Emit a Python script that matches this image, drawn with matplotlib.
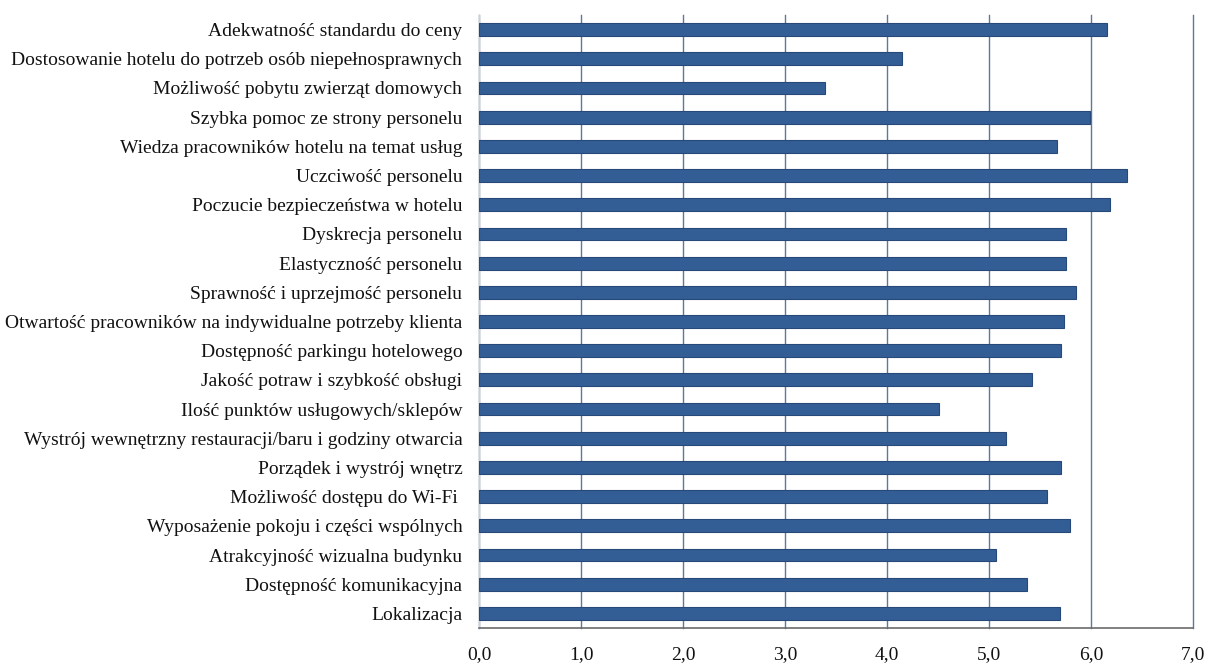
import matplotlib
matplotlib.use("Agg")
import matplotlib.pyplot as plt

categories = [
    "Adekwatność standardu do ceny",
    "Dostosowanie hotelu do potrzeb osób niepełnosprawnych",
    "Możliwość pobytu zwierząt domowych",
    "Szybka pomoc ze strony personelu",
    "Wiedza pracowników hotelu na temat usług",
    "Uczciwość personelu",
    "Poczucie bezpieczeństwa w hotelu",
    "Dyskrecja personelu",
    "Elastyczność personelu",
    "Sprawność i uprzejmość personelu",
    "Otwartość pracowników na indywidualne potrzeby klienta",
    "Dostępność parkingu hotelowego",
    "Jakość potraw i szybkość obsługi",
    "Ilość punktów usługowych/sklepów",
    "Wystrój wewnętrzny restauracji/baru i godziny otwarcia",
    "Porządek i wystrój wnętrz",
    "Możliwość dostępu do Wi-Fi ",
    "Wyposażenie pokoju i części wspólnych",
    "Atrakcyjność wizualna budynku",
    "Dostępność komunikacyjna",
    "Lokalizacja",
]
values = [6.16, 4.15, 3.39, 5.99, 5.67, 6.35, 6.19, 5.75, 5.75, 5.85, 5.74,
          5.71, 5.42, 4.51, 5.17, 5.71, 5.57, 5.79, 5.07, 5.37, 5.70]
x_ticks = [0, 1, 2, 3, 4, 5, 6, 7]
x_tick_labels = ["0,0", "1,0", "2,0", "3,0", "4,0", "5,0", "6,0", "7,0"]

plt.rcParams["font.family"] = ["Liberation Serif", "DejaVu Serif"]

fig = plt.figure(figsize=(12.16, 6.64), dpi=100)
ax = fig.add_axes([479 / 1216, 1 - 628 / 664, (1193 - 479) / 1216, (628 - 15) / 664])

ypos = list(range(len(categories)))
ax.barh(ypos, values, height=0.44, color="#335e95", edgecolor="#26497a",
        linewidth=0.8, zorder=3)

ax.set_ylim(len(categories) - 0.5, -0.5)
ax.set_xlim(0, 7)
ax.set_yticks(ypos)
ax.set_yticklabels(categories, fontsize=14, color="#111111")
ax.set_xticks(x_ticks)
ax.set_xticklabels(x_tick_labels, fontsize=14, color="#111111")
ax.tick_params(axis="y", length=0, pad=12)
ax.tick_params(axis="x", length=0, pad=13)

ax.grid(axis="x", color="#5f7896", linewidth=1.0, zorder=0)
ax.grid(axis="y", visible=False)
for gl in ax.get_xgridlines():
    gl.set_clip_on(False)

for side in ("top", "right"):
    ax.spines[side].set_visible(False)
ax.spines["left"].set_color("#c9d0d8")
ax.spines["left"].set_linewidth(1.0)
ax.spines["bottom"].set_color("#6b6b6b")
ax.spines["bottom"].set_linewidth(1.2)

fig.savefig("out.png", dpi=100, facecolor="white")
